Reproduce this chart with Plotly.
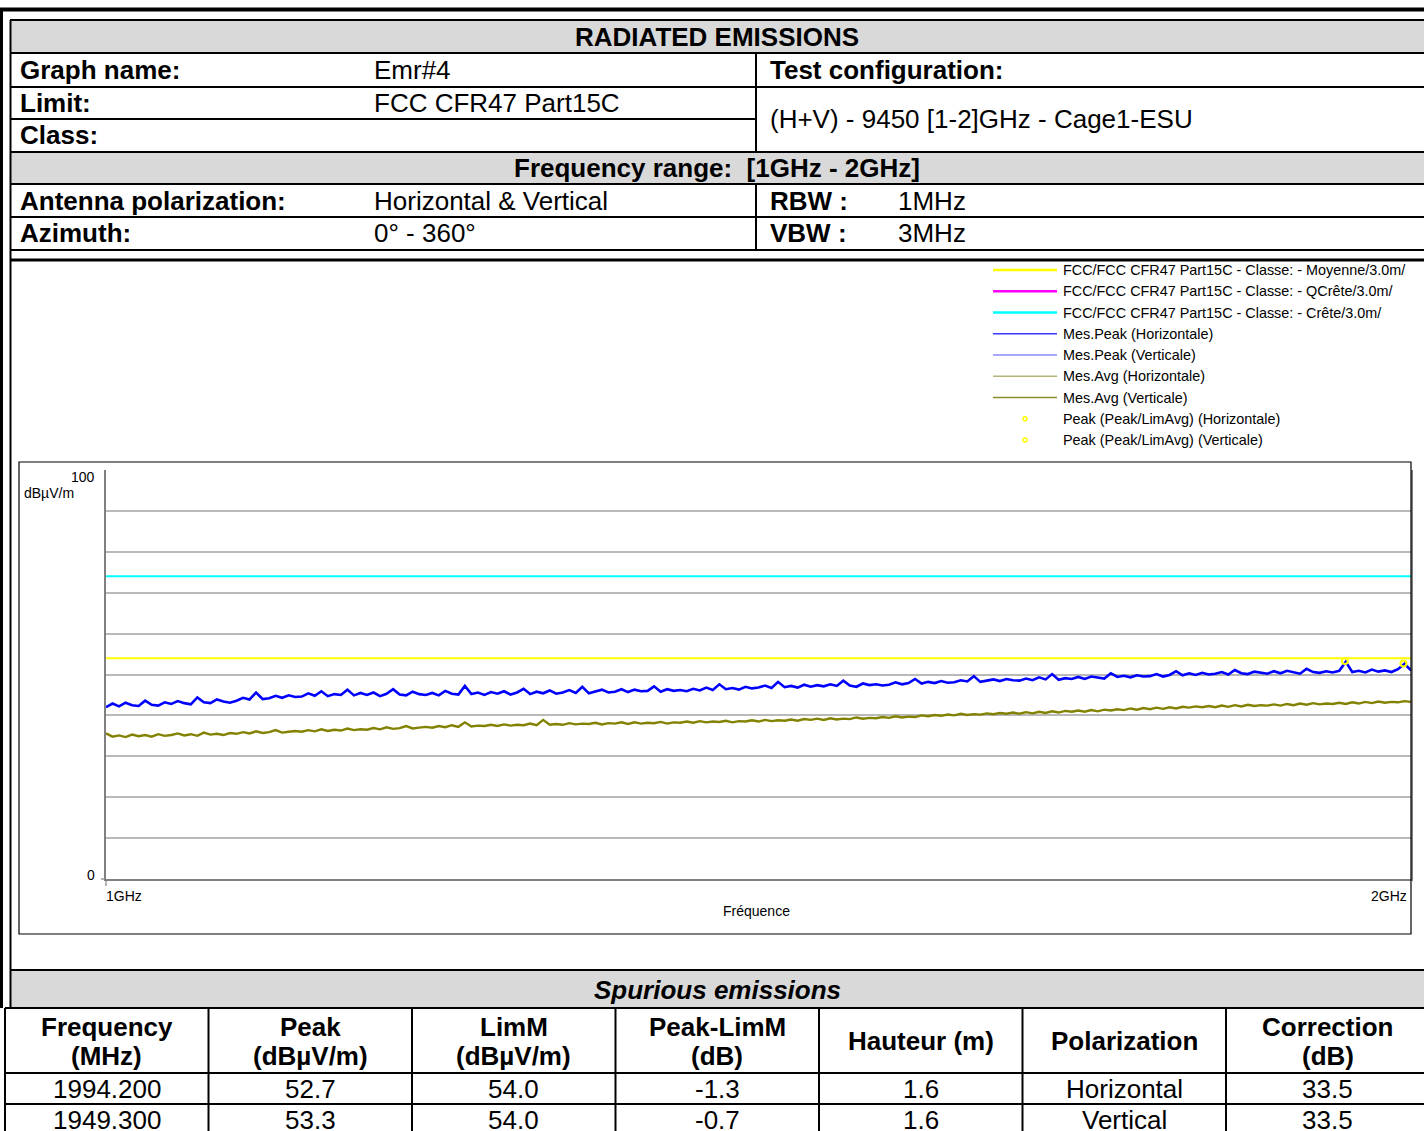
import numpy as np
import plotly.graph_objects as go

W, H = 1424, 1131
FONT = "Liberation Sans, Arial, sans-serif"

# ---------------- data ----------------
freq_start_mhz = 1000.0
freq_stop_mhz = 2000.0

peak_hv = [
    42.0, 42.9, 42.2, 43.1, 42.5, 42.3, 43.6, 42.6, 42.4, 43.2,
    42.8, 43.5, 43.0, 42.7, 44.4, 43.2, 43.0, 43.9, 43.4, 43.1,
    43.6, 44.3, 43.9, 45.6, 44.0, 44.2, 44.8, 44.3, 44.9, 44.5,
    44.6, 45.4, 44.8, 45.9, 44.7, 45.2, 45.0, 46.3, 44.9, 45.5,
    45.0, 45.6, 44.7, 45.3, 46.4, 45.1, 44.9, 45.8, 45.2, 45.0,
    45.5, 44.9, 46.0, 45.3, 45.1, 47.2, 45.2, 45.6, 45.0, 45.7,
    45.3, 45.9, 45.1, 45.6, 46.5, 45.2, 45.8, 45.4, 46.1, 45.3,
    45.6, 46.2, 45.5, 47.0, 45.4, 45.9, 46.3, 45.6, 45.8, 46.4,
    45.7, 46.3, 45.9, 46.0, 47.1, 45.8, 46.4, 46.0, 46.2, 45.9,
    46.5, 46.1, 46.8, 46.2, 47.6, 46.4, 46.7, 46.3, 47.0, 46.6,
    46.8, 47.3, 46.7, 48.2, 46.9, 47.2, 46.8, 47.5, 47.0, 47.4,
    47.1, 47.6, 47.2, 48.5, 47.3, 47.0, 47.8, 47.4, 47.6, 47.3,
    47.5, 48.1, 47.6, 47.9, 48.9, 47.8, 48.2, 47.9, 48.4, 48.0,
    48.1, 48.6, 48.3, 49.6, 48.2, 48.5, 48.8, 48.4, 48.9, 48.6,
    48.5, 49.0, 48.6, 49.3, 48.8, 50.1, 48.7, 49.1, 48.9, 49.4,
    48.9, 49.5, 49.2, 49.0, 50.3, 49.4, 49.7, 49.3, 49.8, 49.5,
    49.6, 50.1, 49.5, 49.9, 50.8, 49.8, 50.3, 49.9, 50.4, 50.0,
    50.2, 50.6, 50.0, 51.1, 50.3, 50.1, 50.7, 50.4, 50.2, 50.8,
    50.3, 50.9, 50.5, 50.2, 51.4, 50.6, 50.4, 50.8, 50.5, 50.9,
    53.1, 50.6, 50.9, 50.5, 51.2, 50.7, 51.0, 50.6, 51.3, 52.6,
    51.0,
]

avg_hv = [
    35.6, 34.8, 35.1, 34.7, 35.3, 34.9, 35.2, 34.8, 35.4, 35.0,
    35.2, 35.6, 35.1, 35.4, 35.0, 35.8, 35.3, 35.5, 35.2, 35.7,
    35.5, 35.9, 35.6, 36.1, 35.7, 35.9, 36.4, 35.8, 36.0, 36.2,
    36.0, 36.4, 36.1, 36.6, 36.2, 36.5, 36.3, 36.8, 36.4, 36.6,
    36.5, 36.9, 36.6, 37.1, 36.7, 36.9, 37.4, 36.8, 37.0, 37.2,
    37.0, 37.4, 37.1, 37.6, 37.2, 38.3, 37.3, 37.5, 37.4, 37.7,
    37.4, 37.8, 37.5, 37.7, 37.6, 38.0, 37.6, 38.9, 37.7, 37.9,
    37.7, 38.1, 37.8, 38.0, 37.9, 38.2, 37.8, 38.1, 38.0, 38.3,
    37.9, 38.3, 38.0, 38.2, 38.1, 38.4, 38.0, 38.3, 38.2, 38.5,
    38.2, 38.6, 38.3, 38.5, 38.4, 38.7, 38.3, 38.6, 38.5, 38.8,
    38.5, 38.9, 38.6, 38.8, 38.7, 39.0, 38.7, 39.1, 38.9, 39.2,
    38.9, 39.3, 39.0, 39.2, 39.1, 39.5, 39.2, 39.4, 39.3, 39.6,
    39.4, 39.8, 39.5, 39.7, 39.6, 40.0, 39.8, 40.1, 39.9, 40.2,
    40.0, 40.4, 40.1, 40.3, 40.2, 40.5, 40.3, 40.6, 40.4, 40.7,
    40.4, 40.8, 40.5, 40.9, 40.6, 41.0, 40.7, 41.1, 40.9, 41.2,
    40.9, 41.3, 41.0, 41.4, 41.2, 41.5, 41.3, 41.7, 41.4, 41.8,
    41.5, 41.9, 41.6, 42.0, 41.7, 42.1, 41.9, 42.2, 42.0, 42.3,
    42.0, 42.4, 42.1, 42.5, 42.2, 42.6, 42.3, 42.5, 42.4, 42.7,
    42.4, 42.8, 42.5, 42.9, 42.6, 43.0, 42.7, 42.9, 42.8, 43.1,
    42.8, 43.2, 42.9, 43.3, 43.0, 43.4, 43.1, 43.3, 43.2, 43.5,
    43.3,
]

limit_freq = [1000.0, 2000.0]
limit_avg = [54.0, 54.0]    # Moyenne
limit_peak = [74.0, 74.0]   # Crete

marker_freq = [1994.2, 1949.3]
marker_peak = [52.7, 53.3]

y_min, y_max, y_step = 0, 100, 10

legend_labels = [
    "FCC/FCC CFR47 Part15C - Classe: - Moyenne/3.0m/",
    "FCC/FCC CFR47 Part15C - Classe: - QCrête/3.0m/",
    "FCC/FCC CFR47 Part15C - Classe: - Crête/3.0m/",
    "Mes.Peak (Horizontale)",
    "Mes.Peak (Verticale)",
    "Mes.Avg (Horizontale)",
    "Mes.Avg (Verticale)",
    "Peak (Peak/LimAvg) (Horizontale)",
    "Peak (Peak/LimAvg) (Verticale)",
]
legend_colors = ["#ffff00", "#ff00ff", "#00ffff", "#3838ff", "#8a8aff",
                 "#b4b478", "#8c8c2a", "#ffff00", "#ffff00"]
legend_kinds = ["thick", "thick", "thick", "thin", "thin", "thin", "thin", "dot", "dot"]

header_rows_left = [
    ("Graph name:", "Emr#4"),
    ("Limit:", "FCC CFR47 Part15C"),
    ("Class:", ""),
]
test_config_label = "Test configuration:"
test_config_value = "(H+V) - 9450 [1-2]GHz - Cage1-ESU"
freq_range_text = "Frequency range:&nbsp; [1GHz - 2GHz]"
antenna_rows = [
    ("Antenna polarization:", "Horizontal & Vertical", "RBW :", "1MHz"),
    ("Azimuth:", "0° - 360°", "VBW :", "3MHz"),
]

table_cols = ["Frequency<br>(MHz)", "Peak<br>(dBµV/m)", "LimM<br>(dBµV/m)",
              "Peak-LimM<br>(dB)", "Hauteur (m)", "Polarization", "Correction<br>(dB)"]
tab_freq = ["1994.200", "1949.300"]
tab_peak = ["52.7", "53.3"]
tab_limm = ["54.0", "54.0"]
tab_diff = ["-1.3", "-0.7"]
tab_height = ["1.6", "1.6"]
tab_pol = ["Horizontal", "Vertical"]
tab_corr = ["33.5", "33.5"]

# ---------------- helpers ----------------
shapes = []
annotations = []


def fx(x):
    return x / W


def fy(y):
    return 1 - y / H


def hline(x0, x1, y, w=2, color="black", layer="above"):
    shapes.append(dict(type="line", xref="paper", yref="paper", x0=fx(x0), x1=fx(x1),
                       y0=fy(y), y1=fy(y), line=dict(color=color, width=w), layer=layer))


def vline(x, y0, y1, w=2, color="black", layer="above"):
    shapes.append(dict(type="line", xref="paper", yref="paper", x0=fx(x), x1=fx(x),
                       y0=fy(y0), y1=fy(y1), line=dict(color=color, width=w), layer=layer))


def rect(x0, y0, x1, y1, fill="#d9d9d9", line_w=0, line_color="black", layer="below"):
    shapes.append(dict(type="rect", xref="paper", yref="paper", x0=fx(x0), x1=fx(x1),
                       y0=fy(y0), y1=fy(y1), fillcolor=fill,
                       line=dict(color=line_color, width=line_w), layer=layer))


def txt(x, y, s, size=26, bold=False, italic=False, anchor="left", color="black"):
    if bold:
        s = "<b>" + s + "</b>"
    if italic:
        s = "<i>" + s + "</i>"
    annotations.append(dict(x=fx(x), y=fy(y), xref="paper", yref="paper", text=s,
                            showarrow=False, xanchor=anchor, yanchor="middle",
                            font=dict(family=FONT, size=size, color=color)))


# ---------------- figure ----------------
fig = go.Figure()

sweep = np.linspace(freq_start_mhz, freq_stop_mhz, len(peak_hv))

fig.add_trace(go.Scatter(x=limit_freq, y=limit_peak, mode="lines",
                         line=dict(color="#00ffff", width=2), hoverinfo="skip"))
fig.add_trace(go.Scatter(x=limit_freq, y=limit_avg, mode="lines",
                         line=dict(color="#ffff00", width=2), hoverinfo="skip"))
fig.add_trace(go.Scatter(x=sweep, y=avg_hv, mode="lines",
                         line=dict(color="#828200", width=2.4)))
fig.add_trace(go.Scatter(x=sweep, y=peak_hv, mode="lines",
                         line=dict(color="#0000ff", width=2.6)))
fig.add_trace(go.Scatter(x=marker_freq, y=marker_peak, mode="markers",
                         marker=dict(symbol="circle-open", size=6, color="#ffff00",
                                     line=dict(width=2, color="#ffff00"))))

# plot area in pixels
PX0, PX1, PY0, PY1 = 106, 1411, 470, 879

fig.update_layout(
    width=W, height=H, autosize=False,
    margin=dict(l=0, r=0, t=0, b=0),
    paper_bgcolor="white", plot_bgcolor="white",
    showlegend=False,
    xaxis=dict(domain=[fx(PX0), fx(PX1)], range=[freq_start_mhz, freq_stop_mhz],
               showgrid=False, zeroline=False, showticklabels=False, ticks="",
               showline=True, linecolor="#808080", linewidth=1.5),
    yaxis=dict(domain=[fy(PY1), fy(PY0)], range=[y_min, y_max], dtick=y_step,
               tick0=0, showgrid=True, gridcolor="#b9b9b9", gridwidth=1.5,
               zeroline=False, showticklabels=False, ticks="",
               showline=True, linecolor="#808080", linewidth=1.5, mirror=True),
)

# ---- outer frame ----
hline(0, W, 9.5, w=4)
vline(1.5, 8, 1008, w=3)
vline(10.5, 20, 1008, w=2)

# ---- header table ----
rect(10, 20, W, 53)
rect(10, 152, W, 184)
for yy in [20, 53, 87, 152, 184, 217, 250]:
    hline(10, W, yy, w=2)
hline(10, 756, 119, w=2)
vline(756, 53, 152, w=2)
vline(756, 184, 250, w=2)

txt(717, 37, "RADIATED EMISSIONS", bold=True, anchor="center")
row_y = [70, 103, 135]
for (lab, val), yy in zip(header_rows_left, row_y):
    txt(18, yy, lab, bold=True)
    if val:
        txt(372, yy, val)
txt(768, 70, test_config_label, bold=True)
txt(768, 119, test_config_value)
txt(717, 168, freq_range_text, bold=True, anchor="center")
for (lab, val, lab2, val2), yy in zip(antenna_rows, [201, 233]):
    txt(18, yy, lab, bold=True)
    txt(372, yy, val)
    txt(768, yy, lab2, bold=True)
    txt(896, yy, val2)

# ---- chart frame ----
hline(10, W, 260, w=3)
rect(19, 462, 1411, 934, fill="rgba(0,0,0,0)", line_w=1.2, layer="above")

# legend
leg_y0, leg_dy = 270, 21.25
for i, (lab, col, kind) in enumerate(zip(legend_labels, legend_colors, legend_kinds)):
    yy = leg_y0 + i * leg_dy
    if kind == "thick":
        hline(993, 1057, yy, w=2.5, color=col)
    elif kind == "thin":
        hline(993, 1057, yy, w=1.3, color=col)
    else:
        shapes.append(dict(type="circle", xref="paper", yref="paper",
                           x0=fx(1023), x1=fx(1027), y0=fy(yy + 2), y1=fy(yy - 2),
                           line=dict(color=col, width=1.5), fillcolor="white"))
    txt(1061, yy, lab, size=14.4)

# axis decorations
txt(97, 477, "100", size=14, anchor="right")
txt(22, 493, "dBµV/m", size=14)
txt(97, 875, "0", size=14, anchor="right")
txt(104, 896, "1GHz", size=14)
txt(1409, 896, "2GHz", size=14, anchor="right")
txt(756, 911, "Fréquence", size=14, anchor="center")
vline(106, 879, 886, w=1.2, color="#808080")
hline(101, 106, 879, w=1.2, color="#808080")

# ---- spurious emissions table ----
rect(10, 970, W, 1008)
hline(10, W, 970, w=2)
txt(717, 990, "Spurious emissions", bold=True, italic=True, anchor="center")

col_edges = [5, 208.5, 412, 615.5, 819, 1022.5, 1226, 1429.5]
for yy in [1008, 1073, 1104, 1135]:
    hline(5, W, yy, w=2)
for xx in col_edges[:-1]:
    vline(xx, 1008, H, w=2)

centers = [(a + b) / 2 for a, b in zip(col_edges[:-1], col_edges[1:])]
for c, lab in zip(centers, table_cols):
    if "<br>" in lab:
        l1, l2 = lab.split("<br>")
        txt(c, 1027, l1, bold=True, anchor="center")
        txt(c, 1056, l2, bold=True, anchor="center")
    else:
        txt(c, 1041, lab, bold=True, anchor="center")

rows = list(zip(tab_freq, tab_peak, tab_limm, tab_diff, tab_height, tab_pol, tab_corr))
for r, yy in zip(rows, [1089, 1120]):
    for c, v in zip(centers, r):
        txt(c, yy, v, anchor="center")

fig.update_layout(shapes=shapes, annotations=annotations)

fig.write_html("out.html", config={"displayModeBar": False},
               post_script="document.body.style.margin='0';document.body.style.overflow='hidden';")
